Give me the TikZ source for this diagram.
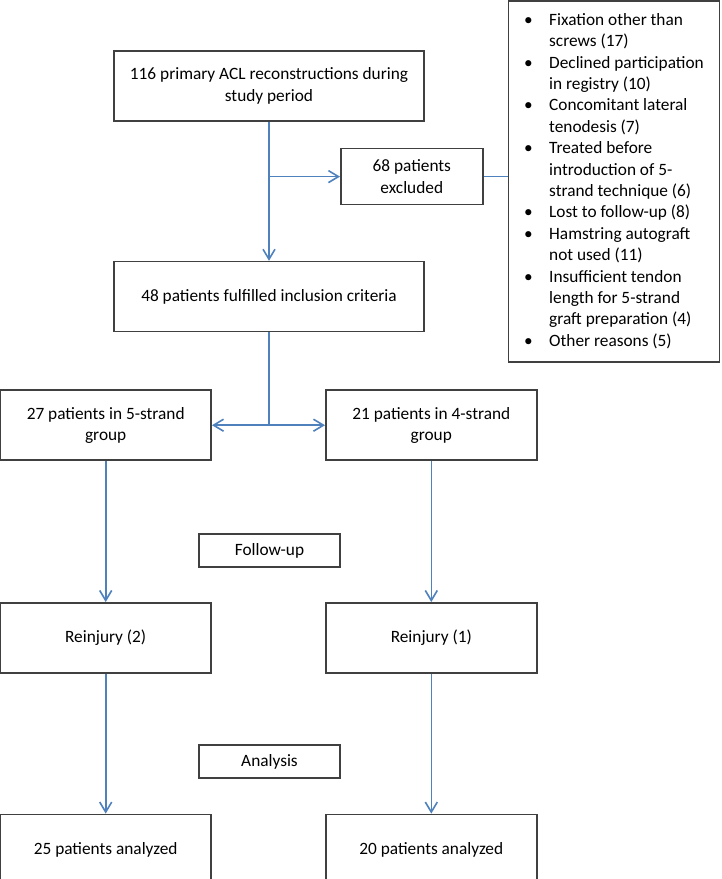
\documentclass[tikz,border=0pt]{standalone}
\usepackage{fontspec}
\setmainfont{Carlito}
\usetikzlibrary{arrows.meta, positioning}
\definecolor{flowblue}{RGB}{79,129,189}
\definecolor{edge}{RGB}{64,64,64}

\begin{document}
\begin{tikzpicture}[
    x=1pt, y=-1pt,
    font=\fontsize{17.3}{21.4}\selectfont,
    box/.style={rectangle, draw=edge, line width=1.6pt, align=center, inner sep=0pt},
    wide/.style={box, minimum width=310pt, minimum height=70pt},
    group/.style={box, minimum width=211pt, minimum height=70pt},
    stage/.style={box, minimum width=141pt, minimum height=33pt},
    flow/.style={draw=flowblue, line width=1.6pt},
    arr/.style={flow, -{Straight Barb[length=10pt,width=12pt]}}
]
\useasboundingbox (0,0) rectangle (721,879);

\node[wide] (top) at (269,86) {116 primary ACL reconstructions during\\study period};
\node[wide, below=139pt of top] (incl) {48 patients fulfilled inclusion criteria};

\node[box, minimum width=142pt, minimum height=56pt, below right=26pt and 71pt of top.south] (excl) {68 patients\\excluded};

\node[box, minimum width=211pt, minimum height=361pt] (reasons) at (614,181.5) {%
\begin{tabular}{@{}p{25pt}@{}l@{}}
\textbullet & Fixation other than\\
 & screws (17)\\
\textbullet & Declined participation\\
 & in registry (10)\\
\textbullet & Concomitant lateral\\
 & tenodesis (7)\\
\textbullet & Treated before\\
 & introduction of 5-\\
 & strand technique (6)\\
\textbullet & Lost to follow-up (8)\\
\textbullet & Hamstring autograft\\
 & not used (11)\\
\textbullet & Insufficient tendon\\
 & length for 5-strand\\
 & graft preparation (4)\\
\textbullet & Other reasons (5)
\end{tabular}};

\node[group, below left=57pt and 57pt of incl.south] (g5) {27 patients in 5-strand\\group};
\node[group, below right=57pt and 56pt of incl.south] (g4) {21 patients in 4-strand\\group};

\node[stage] (fu) at (269.5,550.5) {Follow-up};

\node[group, below=141pt of g5] (re2) {Reinjury (2)};
\node[group, below=141pt of g4] (re1) {Reinjury (1)};

\node[stage] (an) at (269.5,761.5) {Analysis};

\node[group, below=140pt of re2] (out5) {25 patients analyzed};
\node[group, below=140pt of re1] (out4) {20 patients analyzed};

% exclusion branch
\coordinate (split) at (top.south |- excl.west);
\draw[arr] (top) -- (incl);
\draw[arr] (split) -- (excl);
\draw[flow] (excl) -- (excl.east -| reasons.west);

% randomisation fork
\coordinate (fork) at (incl.south |- g5.east);
\draw[flow] (incl) -- (fork);
\draw[arr] (fork) -- (g5);
\draw[arr] (fork) -- (g4);

\draw[arr] (g5) -- (re2);
\draw[arr] (g4) -- (re1);
\draw[arr] (re2) -- (out5);
\draw[arr] (re1) -- (out4);

\end{tikzpicture}
\end{document}
